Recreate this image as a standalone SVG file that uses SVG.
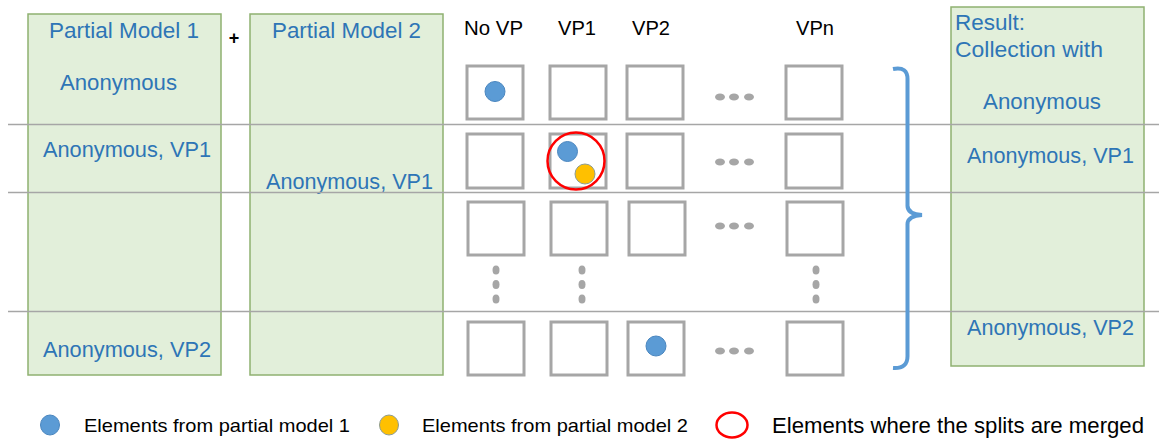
<svg xmlns="http://www.w3.org/2000/svg" width="1159" height="441" viewBox="0 0 1159 441">
<style>
.panel{fill:#e2efda;stroke:#8fb170;stroke-width:1.5}
.hline{stroke:#a6a6a6;stroke-width:1.3}
.sq{fill:#ffffff;stroke:#a6a6a6;stroke-width:3}
.dot{fill:#a6a6a6}
.blue{fill:#5b9bd5;stroke:#4a86bf;stroke-width:1}
.yellow{fill:#ffc000;stroke:#8f9c8f;stroke-width:1}
.lbl{font-family:"Liberation Sans",Arial,sans-serif;font-size:21.5px;fill:#2e75b6}
.hdr{font-family:"Liberation Sans",Arial,sans-serif;font-size:21px;fill:#000}
.leg{font-family:"Liberation Sans",Arial,sans-serif;font-size:19px;fill:#000}
.leg2{font-family:"Liberation Sans",Arial,sans-serif;font-size:21.5px;fill:#000}
</style>
<rect width="1159" height="441" fill="#ffffff"/>
<g id="panel1">
<rect class="panel" x="28" y="14" width="193" height="361"/>
<text class="lbl" x="49" y="38" textLength="150" lengthAdjust="spacingAndGlyphs">Partial Model 1</text>
<text class="lbl" x="60" y="90" textLength="117" lengthAdjust="spacingAndGlyphs">Anonymous</text>
<text class="lbl" x="43" y="157" textLength="168" lengthAdjust="spacingAndGlyphs">Anonymous, VP1</text>
<text class="lbl" x="43" y="357" textLength="168" lengthAdjust="spacingAndGlyphs">Anonymous, VP2</text>
</g>
<g id="plus"><text x="234" y="44" text-anchor="middle" font-family="Liberation Sans,Arial,sans-serif" font-size="18" font-weight="bold" fill="#000">+</text></g>
<g id="panel2">
<rect class="panel" x="250" y="14" width="193" height="361"/>
<text class="lbl" x="272" y="38" textLength="149" lengthAdjust="spacingAndGlyphs">Partial Model 2</text>
<text class="lbl" x="266" y="189" textLength="167" lengthAdjust="spacingAndGlyphs">Anonymous, VP1</text>
</g>
<g id="result">
<rect class="panel" x="951" y="7" width="193" height="359"/>
<text class="lbl" x="955" y="30" textLength="70" lengthAdjust="spacingAndGlyphs">Result:</text>
<text class="lbl" x="955" y="57" textLength="148" lengthAdjust="spacingAndGlyphs">Collection with</text>
<text class="lbl" x="983" y="109" textLength="118" lengthAdjust="spacingAndGlyphs">Anonymous</text>
<text class="lbl" x="967" y="163" textLength="167" lengthAdjust="spacingAndGlyphs">Anonymous, VP1</text>
<text class="lbl" x="967" y="335" textLength="167" lengthAdjust="spacingAndGlyphs">Anonymous, VP2</text>
</g>
<g id="connectors">
<line class="hline" x1="8" y1="124.5" x2="1159" y2="124.5"/>
<line class="hline" x1="8" y1="192.5" x2="1159" y2="192.5"/>
<line class="hline" x1="8" y1="311.5" x2="1159" y2="311.5"/>
<path d="M893,69 Q908,66 907.5,80 L907.5,205 Q907,214 922,215 Q907,216 907.5,225 L907.5,355 Q908,369 893,368" fill="none" stroke="#5b9bd5" stroke-width="4"/>
</g>
<g id="headers">
<text class="hdr" x="464" y="35" textLength="59" lengthAdjust="spacingAndGlyphs">No VP</text>
<text class="hdr" x="558" y="35" textLength="38" lengthAdjust="spacingAndGlyphs">VP1</text>
<text class="hdr" x="632" y="35" textLength="38" lengthAdjust="spacingAndGlyphs">VP2</text>
<text class="hdr" x="796" y="35" textLength="38" lengthAdjust="spacingAndGlyphs">VPn</text>
</g>
<g id="grid">
<rect class="sq" x="467" y="66" width="56" height="53"/>
<rect class="sq" x="550" y="66" width="56" height="53"/>
<rect class="sq" x="627" y="66" width="56" height="53"/>
<rect class="sq" x="786" y="66" width="56" height="53"/>
<rect class="sq" x="467" y="134" width="56" height="54"/>
<rect class="sq" x="550" y="134" width="56" height="54"/>
<rect class="sq" x="627" y="134" width="56" height="54"/>
<rect class="sq" x="786" y="134" width="56" height="54"/>
<rect class="sq" x="468" y="202" width="56" height="53"/>
<rect class="sq" x="551" y="202" width="56" height="53"/>
<rect class="sq" x="629" y="202" width="56" height="53"/>
<rect class="sq" x="787" y="202" width="56" height="53"/>
<rect class="sq" x="468" y="322" width="56" height="53"/>
<rect class="sq" x="551" y="322" width="56" height="53"/>
<rect class="sq" x="628" y="322" width="56" height="53"/>
<rect class="sq" x="787" y="322" width="56" height="53"/>
</g>
<g id="ellipses">
<ellipse class="dot" cx="720" cy="97" rx="5" ry="3.5"/><ellipse class="dot" cx="734" cy="97" rx="5" ry="3.5"/><ellipse class="dot" cx="749" cy="97" rx="5" ry="3.5"/>
<ellipse class="dot" cx="720" cy="162" rx="5" ry="3.5"/><ellipse class="dot" cx="734" cy="162" rx="5" ry="3.5"/><ellipse class="dot" cx="749" cy="162" rx="5" ry="3.5"/>
<ellipse class="dot" cx="720" cy="226" rx="5" ry="3.5"/><ellipse class="dot" cx="734" cy="226" rx="5" ry="3.5"/><ellipse class="dot" cx="749" cy="226" rx="5" ry="3.5"/>
<ellipse class="dot" cx="720" cy="351" rx="5" ry="3.5"/><ellipse class="dot" cx="734" cy="351" rx="5" ry="3.5"/><ellipse class="dot" cx="749" cy="351" rx="5" ry="3.5"/>
<ellipse class="dot" cx="496" cy="270" rx="3.5" ry="4.5"/><ellipse class="dot" cx="496" cy="284.5" rx="3.5" ry="4.5"/><ellipse class="dot" cx="496" cy="299" rx="3.5" ry="4.5"/>
<ellipse class="dot" cx="582" cy="270" rx="3.5" ry="4.5"/><ellipse class="dot" cx="582" cy="284.5" rx="3.5" ry="4.5"/><ellipse class="dot" cx="582" cy="299" rx="3.5" ry="4.5"/>
<ellipse class="dot" cx="816" cy="270" rx="3.5" ry="4.5"/><ellipse class="dot" cx="816" cy="284.5" rx="3.5" ry="4.5"/><ellipse class="dot" cx="816" cy="299" rx="3.5" ry="4.5"/>
</g>
<g id="elements">
<circle class="blue" cx="495" cy="91.5" r="10"/>
<circle class="blue" cx="567.5" cy="151.5" r="10"/>
<circle class="yellow" cx="585" cy="174" r="10"/>
<circle cx="576" cy="161" r="28.5" fill="none" stroke="#ff0000" stroke-width="2.5"/>
<circle class="blue" cx="656" cy="346" r="10"/>
</g>
<g id="legend">
<ellipse class="blue" cx="50" cy="425" rx="9.5" ry="10"/>
<text class="leg" x="84" y="432" textLength="266" lengthAdjust="spacingAndGlyphs">Elements from partial model 1</text>
<ellipse class="yellow" cx="389" cy="425" rx="9.5" ry="10"/>
<text class="leg" x="422" y="432" textLength="266" lengthAdjust="spacingAndGlyphs">Elements from partial model 2</text>
<ellipse cx="732" cy="425" rx="15.5" ry="12.5" fill="none" stroke="#ff0000" stroke-width="2.5"/>
<text class="leg2" x="772" y="433" textLength="372" lengthAdjust="spacingAndGlyphs">Elements where the splits are merged</text>
</g>
</svg>
